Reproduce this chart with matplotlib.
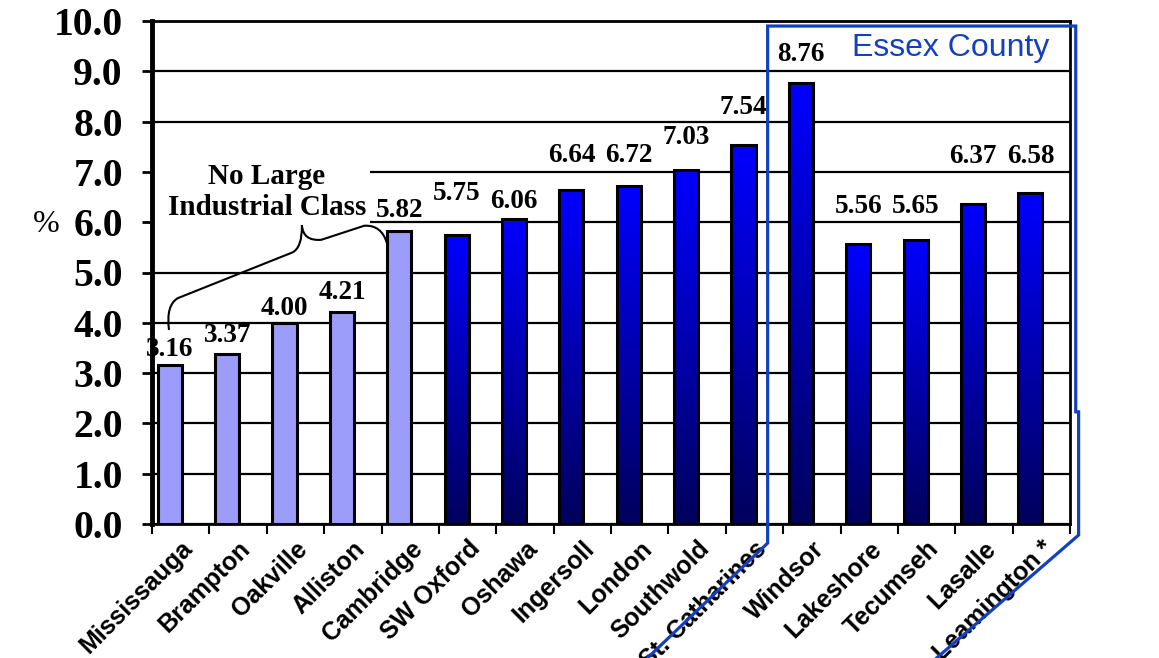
import numpy as np
import matplotlib
matplotlib.use("Agg")
import matplotlib.pyplot as plt
from matplotlib.path import Path
from matplotlib.patches import PathPatch, Rectangle
from matplotlib.colors import LinearSegmentedColormap

cities = ['Mississauga', 'Brampton', 'Oakville', 'Alliston', 'Cambridge',
          'SW Oxford', 'Oshawa', 'Ingersoll', 'London', 'Southwold',
          'St. Catharines', 'Windsor', 'Lakeshore', 'Tecumseh', 'Lasalle',
          'Leamington *']
rates = [3.16, 3.37, 4.00, 4.21, 5.82, 5.75, 6.06, 6.64, 6.72, 7.03,
         7.54, 8.76, 5.56, 5.65, 6.37, 6.58]
# first five have no large industrial class
no_large_ind = [True] * 5 + [False] * 11
yticks = np.arange(0, 10.01, 1.0)

# label lift above each bar (points)
label_dy = [11, 14, 10, 14, 15, 30, 13, 25, 22, 24, 27, 21, 27, 24, 34, 26]

serif = 'Liberation Serif'
sans = 'Liberation Sans'
essex_blue = '#1440C0'

fig = plt.figure(figsize=(11.59, 6.58), dpi=100)
ax = fig.add_axes([152 / 1159, 134 / 658, 918 / 1159, 503 / 658])

x = np.arange(len(cities))
bx = x - 0.19
bw = 0.42

grad = LinearSegmentedColormap.from_list('bl', ['#00005C', '#0000FF'])
g = np.linspace(0, 1, 256).reshape(-1, 1)

for xi, v, light in zip(bx, rates, no_large_ind):
    if light:
        ax.bar(xi, v, width=bw, color='#9C9CFA', edgecolor='black',
               linewidth=2.2, zorder=3)
    else:
        ax.imshow(g, cmap=grad, origin='lower', aspect='auto',
                  extent=(xi - bw / 2, xi + bw / 2, 0, v), zorder=2.8)
        ax.bar(xi, v, width=bw, color='none', edgecolor='black',
               linewidth=2.2, zorder=3)

for xi, v, dy in zip(bx, rates, label_dy):
    ax.annotate(f'{v:.2f}', (xi, v), xytext=(0, dy), textcoords='offset points',
                ha='center', va='center', fontsize=19.5, fontweight='bold',
                family=serif, zorder=5)

ax.set_xlim(-0.5, len(cities) - 0.5)
ax.set_ylim(0, 10)

ax.set_yticks(yticks)
ax.set_yticklabels([f'{t:.1f}' for t in yticks], fontsize=28.5,
                   fontweight='bold', family=serif)
ax.tick_params(axis='y', length=7, width=2, pad=14)

ax.set_xticks(np.arange(len(cities) + 1) - 0.5)
ax.set_xticklabels([])
ax.set_xticks(x, minor=True)
ax.set_xticklabels(cities, minor=True, rotation=45, ha='right',
                   rotation_mode='anchor', fontsize=18, fontweight='bold',
                   family=sans)
ax.tick_params(axis='x', which='major', length=7, width=1.5)
ax.tick_params(axis='x', which='minor', length=0, pad=9)

ax.set_axisbelow(True)
ax.yaxis.grid(True, color='black', linewidth=1.6)
ax.spines['left'].set_linewidth(3.5)
for s in ['top', 'right', 'bottom']:
    ax.spines[s].set_linewidth(2)

fig.text(46 / 1159, 1 - 224 / 658, '%', fontsize=23, family=serif,
         ha='center', va='center')

# white patch behind the bracket note
ax.add_patch(Rectangle((-0.48, 5.94), 3.78, 1.32, facecolor='white',
                       edgecolor='none', zorder=1))
ax.text(1.5, 6.6, 'No Large\nIndustrial Class', ha='center', va='center',
        fontsize=21, fontweight='bold', family=serif, linespacing=1.15,
        zorder=5)

verts = [(-0.204, 3.857), (-0.26, 4.35), (-0.05, 4.49),
         (1.95, 5.40),
         (2.12, 5.50), (2.113, 5.944),
         (2.13, 5.62), (2.45, 5.65),
         (3.20, 5.93),
         (3.50, 5.95), (3.594, 5.586)]
codes = [Path.MOVETO, Path.CURVE3, Path.CURVE3, Path.LINETO,
         Path.CURVE3, Path.CURVE3, Path.CURVE3, Path.CURVE3,
         Path.LINETO, Path.CURVE3, Path.CURVE3]
ax.add_patch(PathPatch(Path(verts, codes), facecolor='none',
                       edgecolor='black', linewidth=1.5, zorder=4))

# Essex County outline
ex = [8.14, 10.23, 10.23, 15.60, 15.60, 15.65, 15.65, 13.18]
ey = [-2.66, -0.38, 9.90, 9.90, 2.23, 2.23, -0.22, -2.66]
ax.plot(ex, ey, color=essex_blue, linewidth=2.3, clip_on=False, zorder=6,
        solid_joinstyle='miter')
ax.text(13.42, 9.46, 'Essex County', color=essex_blue, fontsize=23,
        family=sans, ha='center', va='center', zorder=6)

fig.savefig('out.png', dpi=100)
